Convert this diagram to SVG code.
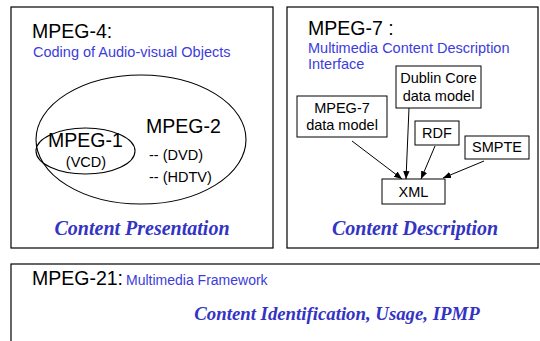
<svg xmlns="http://www.w3.org/2000/svg" width="540" height="341" viewBox="0 0 540 341">
<style>
.frame{fill:#fff;stroke:#000;stroke-width:1.2}
.shape{fill:none;stroke:#000;stroke-width:1.1}
.box{fill:#fff;stroke:#000;stroke-width:1}
.t{font-family:"Liberation Sans",Arial,sans-serif;fill:#000}
.big{font-size:19.5px}
.mid{font-size:14.5px}
.blue{font-family:"Liberation Sans",Arial,sans-serif;fill:#3c3cdc}
.head{font-family:"Liberation Serif","Times New Roman",serif;font-weight:bold;font-style:italic;font-size:20px;fill:#3333c4}
.conn{stroke:#000;stroke-width:1;fill:none;marker-end:url(#arr)}
</style>
<defs>
<marker id="arr" viewBox="0 0 10 10" refX="10" refY="5" markerWidth="8" markerHeight="8" orient="auto" markerUnits="userSpaceOnUse">
<path d="M0,1 L10,5 L0,9 Z" fill="#000"/>
</marker>
</defs>
<rect width="540" height="341" fill="#fff"/>
<g id="mpeg4">
<rect class="frame" x="11" y="7" width="262" height="241"/>
<text class="t big" x="32" y="38">MPEG-4:</text>
<text class="blue" x="33" y="57" font-size="14.5">Coding of Audio-visual Objects</text>
<ellipse class="shape" cx="141" cy="139.5" rx="105" ry="64.5"/>
<ellipse class="shape" cx="85.5" cy="151" rx="49.5" ry="23"/>
<text class="t big" x="48" y="147">MPEG-1</text>
<text class="t mid" x="86" y="167" text-anchor="middle">(VCD)</text>
<text class="t big" x="146" y="133">MPEG-2</text>
<text class="t mid" x="149" y="160">-- (DVD)</text>
<text class="t mid" x="149" y="182">-- (HDTV)</text>
<text class="head" x="142" y="235" text-anchor="middle">Content Presentation</text>
</g>
<g id="mpeg7">
<rect class="frame" x="287" y="7" width="251" height="241"/>
<text class="t big" x="308" y="35">MPEG-7 :</text>
<text class="blue" x="308" y="53" font-size="14.5">Multimedia Content Description</text>
<text class="blue" x="308" y="69" font-size="14.5">Interface</text>
<text class="head" x="415" y="235" text-anchor="middle">Content Description</text>
</g>
<g id="dublin">
<rect class="box" x="396" y="66" width="85" height="42"/>
<text class="t mid" x="438.5" y="83" text-anchor="middle">Dublin Core</text>
<text class="t mid" x="438.5" y="101" text-anchor="middle">data model</text>
</g>
<g id="mpeg7dm">
<rect class="box" x="297" y="96" width="90" height="41"/>
<text class="t mid" x="342" y="113" text-anchor="middle">MPEG-7</text>
<text class="t mid" x="342" y="130" text-anchor="middle">data model</text>
</g>
<g id="rdf">
<rect class="box" x="415" y="121" width="44" height="24"/>
<text class="t mid" x="437" y="138" text-anchor="middle">RDF</text>
</g>
<g id="smpte">
<rect class="box" x="465" y="136" width="64" height="23"/>
<text class="t mid" x="497" y="152" text-anchor="middle">SMPTE</text>
</g>
<g id="xml">
<rect class="box" x="382" y="179" width="63" height="25"/>
<text class="t mid" x="413.5" y="197" text-anchor="middle">XML</text>
</g>
<g id="connectors">
<line class="conn" x1="352" y1="141" x2="402" y2="179"/>
<line class="conn" x1="409" y1="108" x2="406" y2="179"/>
<line class="conn" x1="435" y1="146" x2="421" y2="179"/>
<line class="conn" x1="484" y1="161" x2="443" y2="178"/>
</g>
<g id="mpeg21">
<rect class="frame" x="11" y="264" width="540" height="90"/>
<text class="t big" x="32" y="285">MPEG-21:</text>
<text class="blue" x="126" y="285" font-size="14">Multimedia Framework</text>
<text class="head" x="337" y="320" text-anchor="middle" style="font-size:18.8px">Content Identification, Usage, IPMP</text>
</g>
</svg>
